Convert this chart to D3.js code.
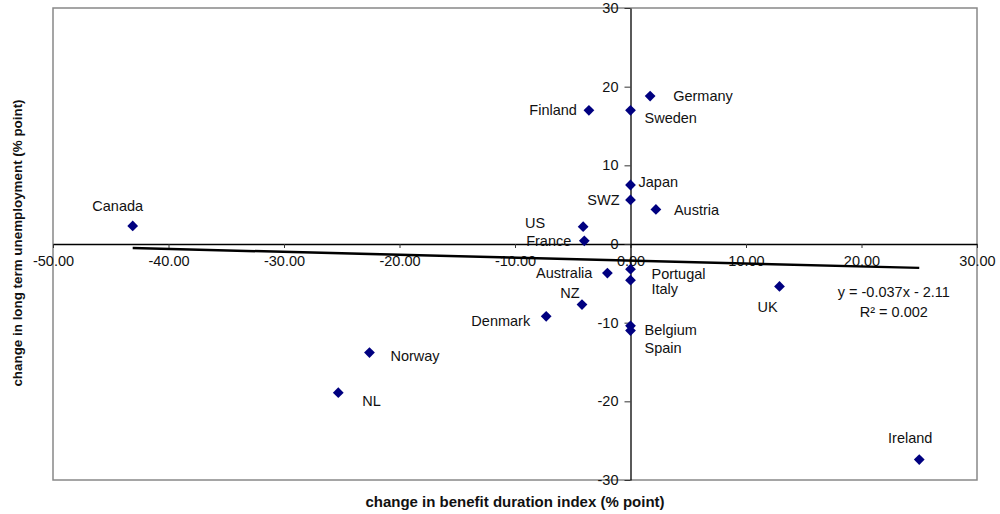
<!DOCTYPE html>
<html>
<head>
<meta charset="utf-8">
<script src="https://cdn.jsdelivr.net/npm/d3@7"></script>
<style>
  body { margin: 0; background: #fff; }
  svg { font-family: "Liberation Sans", Arial, sans-serif; }
</style>
</head>
<body>
<div class="chart"></div>
<script>
var width = 1000;
var height = 514;

var margin = {
    top: 8,
    bottom: 34,
    left: 53,
    right: 23
}

// data
var countries = ["Canada", "Finland", "Sweden", "Germany", "Japan", "SWZ", "Austria", "US", "France",
    "Australia", "Portugal", "Italy", "NZ", "Denmark", "Belgium", "Spain", "Norway", "NL", "UK", "Ireland"];
var benefit_change = [-43.1, -3.6, 0.0, 1.7, 0.0, 0.0, 2.2, -4.1, -4.0,
    -2.0, 0.0, 0.0, -4.2, -7.3, 0.0, 0.0, -22.6, -25.3, 12.9, 25.0];
var ltu_change = [2.3, 17.0, 17.0, 18.8, 7.5, 5.6, 4.4, 2.2, 0.4,
    -3.7, -3.2, -4.6, -7.7, -9.2, -10.4, -11.0, -13.8, -18.9, -5.4, -27.4];
var x_ticks = [-50, -40, -30, -20, -10, 0, 10, 20, 30];
var y_ticks = [-30, -20, -10, 0, 10, 20, 30];
var trend_slope = -0.037;
var trend_intercept = -2.11;
var equation_lines = ["y = -0.037x - 2.11", "R² = 0.002"];

// label placement next to each marker: [anchor, dx, dy]
var label_place = {
    "Canada": ["middle", -15, -20],
    "Finland": ["end", -12, 0],
    "Sweden": ["start", 14, 8],
    "Germany": ["start", 23, 0],
    "Japan": ["start", 8, -3],
    "SWZ": ["end", -11, 0],
    "Austria": ["start", 18, 1],
    "US": ["end", -38, -4],
    "France": ["end", -13, 0],
    "Australia": ["end", -15, 0],
    "Portugal": ["start", 21, 5],
    "Italy": ["start", 21, 9],
    "NZ": ["middle", -12, -12],
    "Denmark": ["end", -16, 5],
    "Belgium": ["start", 14, 4],
    "Spain": ["start", 14, 17],
    "Norway": ["start", 21, 3],
    "NL": ["start", 24, 8],
    "UK": ["middle", -12, 20],
    "Ireland": ["middle", -9, -22]
}

var points = countries.map((c, i) => {
    return {name: c, x: benefit_change[i], y: ltu_change[i]};
});

// plain hyphen for negatives, like the original
var locale = d3.formatLocale({decimal: ".", thousands: ",", grouping: [3], currency: ["", ""], minus: "-"});

var svg = d3.select(".chart").append("svg")
    .attr("width", width)
    .attr("height", height);

svg.append("rect")
    .attr("width", width)
    .attr("height", height)
    .attr("fill", "#fff");

var x_scale = d3.scaleLinear()
    .domain([-50, 30])
    .range([margin.left, width - margin.right]);

var y_scale = d3.scaleLinear()
    .domain([-30, 30])
    .range([height - margin.bottom, margin.top]);

// plot border
svg.append("rect")
    .attr("x", margin.left)
    .attr("y", margin.top)
    .attr("width", width - margin.left - margin.right)
    .attr("height", height - margin.top - margin.bottom)
    .attr("fill", "none")
    .attr("stroke", "#888")
    .attr("stroke-width", 1.5);

// axes crossing at zero
var x_axis = svg.append("g")
    .attr("transform", "translate(0," + y_scale(0) + ")")
    .call(d3.axisBottom(x_scale).tickValues(x_ticks).tickSize(4).tickPadding(8)
        .tickFormat(locale.format(".2f")).tickSizeOuter(0));

var y_axis = svg.append("g")
    .attr("transform", "translate(" + x_scale(0) + ",0)")
    .call(d3.axisLeft(y_scale).tickValues(y_ticks).tickSize(6).tickPadding(6)
        .tickFormat(locale.format("d")).tickSizeOuter(0));

svg.selectAll(".tick text")
    .attr("font-size", "14.5px")
    .attr("font-family", "Liberation Sans, Arial, sans-serif")
    .attr("fill", "#111");
svg.selectAll(".domain").attr("stroke", "#000").attr("stroke-width", 1.3);
svg.selectAll(".tick line").attr("stroke", "#333");

// trend line
var x_ext = d3.extent(benefit_change);
var trend = x_ext.map(v => [v, trend_slope * v + trend_intercept]);
svg.append("path")
    .datum(trend)
    .attr("d", d3.line().x(d => x_scale(d[0])).y(d => y_scale(d[1])))
    .attr("stroke", "#000")
    .attr("stroke-width", 2.5)
    .attr("fill", "none");

// markers
svg.append("g")
    .selectAll("path")
    .data(points)
    .enter()
    .append("path")
    .attr("d", d3.symbol().type(d3.symbolSquare).size(58))
    .attr("transform", d => "translate(" + x_scale(d.x) + "," + y_scale(d.y) + ") rotate(45)")
    .attr("fill", "#000080");

// point labels
svg.append("g")
    .selectAll("text")
    .data(points)
    .enter()
    .append("text")
    .attr("x", d => x_scale(d.x) + label_place[d.name][1])
    .attr("y", d => y_scale(d.y) + label_place[d.name][2])
    .attr("dy", "0.35em")
    .attr("text-anchor", d => label_place[d.name][0])
    .attr("font-size", "14.5px")
    .attr("fill", "#111")
    .text(d => d.name);

// regression equation
svg.append("g")
    .selectAll("text")
    .data(equation_lines)
    .enter()
    .append("text")
    .attr("x", x_scale(22.8))
    .attr("y", (d, i) => y_scale(-6.1 - i * 2.5))
    .attr("dy", "0.35em")
    .attr("text-anchor", "middle")
    .attr("font-size", "14.5px")
    .attr("fill", "#111")
    .text(d => d);

// axis titles
svg.append("text")
    .attr("x", 515)
    .attr("y", 502)
    .attr("dy", "0.35em")
    .attr("text-anchor", "middle")
    .attr("font-size", "15px")
    .attr("font-weight", "bold")
    .attr("fill", "#111")
    .text("change in benefit duration index (% point)");

svg.append("text")
    .attr("transform", "translate(17,243) rotate(-90)")
    .attr("dy", "0.35em")
    .attr("text-anchor", "middle")
    .attr("font-size", "13.4px")
    .attr("font-weight", "bold")
    .attr("fill", "#111")
    .text("change in long term unemployment (% point)");
</script>
</body>
</html>
